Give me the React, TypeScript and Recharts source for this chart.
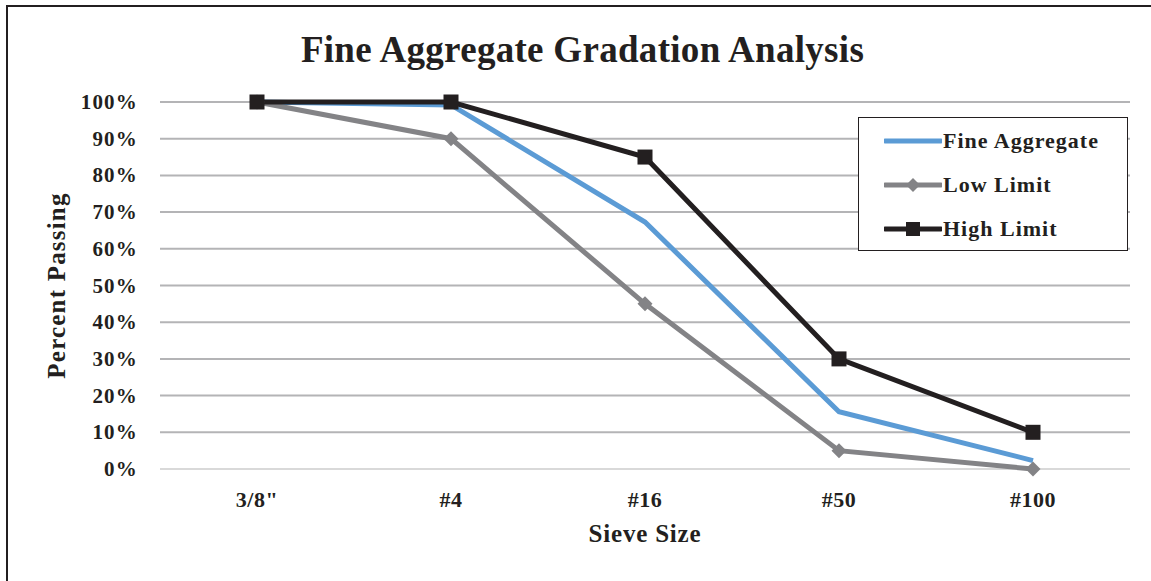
import React from "react";
import {
  LineChart,
  Line,
  XAxis,
  YAxis,
  CartesianGrid,
  ReferenceLine,
} from "recharts";

const sieveSizes = ['3/8"', "#4", "#16", "#50", "#100"];
const fineAggregate = [100, 99.2, 67.3, 15.6, 2.3];
const lowLimit = [100, 90, 45, 5, 0];
const highLimit = [100, 100, 85, 30, 10];
const percentTicks = [0, 10, 20, 30, 40, 50, 60, 70, 80, 90, 100];

const SERIES = [
  { key: "fine", name: "Fine Aggregate", color: "#5b9bd5", marker: "none" },
  { key: "low", name: "Low Limit", color: "#838386", marker: "diamond" },
  { key: "high", name: "High Limit", color: "#231f20", marker: "square" },
];

const FONT = '"Liberation Serif", "Times New Roman", serif';
const INK = "#231f20";

const data = sieveSizes.map((size, i) => ({
  size,
  fine: fineAggregate[i],
  low: lowLimit[i],
  high: highLimit[i],
}));

function SquareDot(props: any) {
  const { cx, cy } = props;
  if (cx == null || cy == null) return null;
  return <rect x={cx - 7.5} y={cy - 7.5} width={15} height={15} fill={INK} />;
}

function DiamondDot(props: any) {
  const { cx, cy } = props;
  if (cx == null || cy == null) return null;
  const r = 7.5;
  return (
    <polygon
      points={`${cx},${cy - r} ${cx + r},${cy} ${cx},${cy + r} ${cx - r},${cy}`}
      fill="#838386"
    />
  );
}

function XTick(props: any) {
  const { x, y, payload } = props;
  return (
    <text
      x={x}
      y={y + 30}
      textAnchor="middle"
      fontFamily={FONT}
      fontWeight="bold"
      fontSize={22}
      fill={INK}
      letterSpacing={0.5}
    >
      {payload.value}
    </text>
  );
}

function YTick(props: any) {
  const { x, y, payload } = props;
  return (
    <text
      x={x - 14}
      y={y + 7}
      textAnchor="end"
      fontFamily={FONT}
      fontWeight="bold"
      fontSize={21}
      fill={INK}
      letterSpacing={1.2}
    >
      {payload.value}%
    </text>
  );
}

function LegendBox() {
  return (
    <div
      style={{
        position: "absolute",
        left: 858,
        top: 117,
        border: `1.5px solid ${INK}`,
        background: "#fff",
        width: 270,
        height: 134,
        boxSizing: "border-box",
        paddingTop: 1,
      }}
    >
      {SERIES.map((s) => (
        <div
          key={s.key}
          style={{ display: "flex", alignItems: "center", height: 44, paddingLeft: 25 }}
        >
          <svg width={58} height={20}>
            <line x1={1} y1={10} x2={57} y2={10} stroke={s.color} strokeWidth={5} strokeLinecap="round" />
            {s.marker === "square" && <rect x={22} y={3} width={14} height={14} fill={s.color} />}
            {s.marker === "diamond" && (
              <polygon points="29,3 36,10 29,17 22,10" fill={s.color} />
            )}
          </svg>
          <span
            style={{
              fontFamily: FONT,
              fontWeight: "bold",
              fontSize: 22,
              color: INK,
              marginLeft: 1,
              letterSpacing: 1,
            }}
          >
            {s.name}
          </span>
        </div>
      ))}
    </div>
  );
}

export default function App() {
  return (
    <div
      style={{
        position: "fixed",
        left: 0,
        top: 0,
        width: 1151,
        height: 581,
        overflow: "hidden",
        background: "#fff",
      }}
    >
      {/* frame: only the top and left edges fall inside the view */}
      <div
        style={{
          position: "absolute",
          left: 6,
          top: 5,
          width: 1300,
          height: 700,
          borderTop: `2.5px solid ${INK}`,
          borderLeft: `2.5px solid ${INK}`,
        }}
      />
      <div
        style={{
          position: "absolute",
          left: 0,
          top: 28,
          width: 1165,
          textAlign: "center",
          fontFamily: FONT,
          fontWeight: "bold",
          fontSize: 37,
          letterSpacing: 0.3,
          color: INK,
        }}
      >
        Fine Aggregate Gradation Analysis
      </div>
      <div style={{ position: "absolute", left: 0, top: 0 }}>
        <LineChart
          width={1151}
          height={581}
          data={data}
          margin={{ top: 102, right: 21, left: 0, bottom: 0 }}
        >
          <CartesianGrid vertical={false} stroke="#b4b4b6" strokeWidth={2} />
          <ReferenceLine y={0} stroke="#d9d9d9" strokeWidth={2} />
          <XAxis
            dataKey="size"
            height={112}
            axisLine={false}
            tickLine={false}
            padding={{ left: 97, right: 97 }}
            tick={<XTick />}
            interval={0}
            label={{
              value: "Sieve Size",
              position: "insideTop",
              offset: 55,
              style: {
                fontFamily: FONT,
                fontWeight: "bold",
                fontSize: 25,
                fill: INK,
                letterSpacing: 0.8,
              },
            }}
          />
          <YAxis
            width={160}
            domain={[0, 100]}
            ticks={percentTicks}
            axisLine={false}
            tickLine={false}
            tick={<YTick />}
            interval={0}
            label={{
              value: "Percent Passing",
              angle: -90,
              position: "insideLeft",
              offset: 56,
              style: {
                fontFamily: FONT,
                fontWeight: "bold",
                fontSize: 25,
                fill: INK,
                textAnchor: "middle",
                letterSpacing: 1.2,
              },
            }}
          />
          <Line
            dataKey="fine"
            name="Fine Aggregate"
            stroke="#5b9bd5"
            strokeWidth={5}
            dot={false}
            activeDot={false}
            isAnimationActive={false}
          />
          <Line
            dataKey="low"
            name="Low Limit"
            stroke="#838386"
            strokeWidth={5}
            dot={<DiamondDot />}
            activeDot={false}
            isAnimationActive={false}
          />
          <Line
            dataKey="high"
            name="High Limit"
            stroke={INK}
            strokeWidth={5}
            dot={<SquareDot />}
            activeDot={false}
            isAnimationActive={false}
          />
        </LineChart>
      </div>
      <LegendBox />
    </div>
  );
}
